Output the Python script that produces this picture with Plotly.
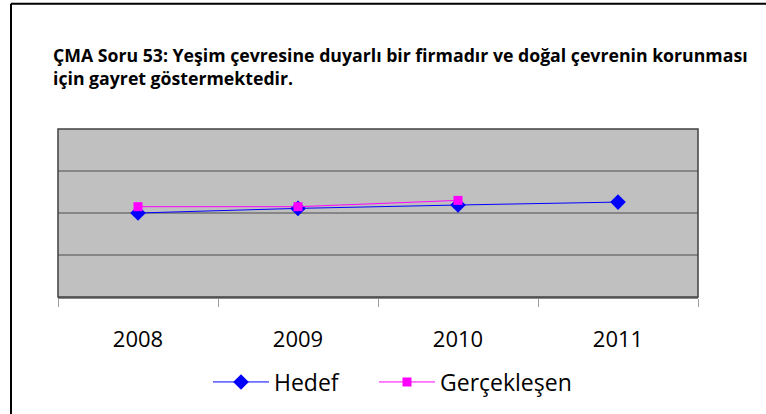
import plotly.graph_objects as go

years = ["2008", "2009", "2010", "2011"]
hedef = [2.0, 2.11, 2.19, 2.26]
gerceklesen = [2.15, 2.15, 2.30, None]
title_text = "ÇMA Soru 53: Yeşim çevresine duyarlı bir firmadır ve doğal çevrenin korunması<br>için gayret göstermektedir."

FONT = "Open Sans"

fig = go.Figure()
fig.add_trace(go.Scatter(
    x=years, y=hedef, name="Hedef", mode="lines+markers",
    line=dict(color="#0000FF", width=1),
    marker=dict(symbol="diamond", size=12, color="#0000FF"),
    legend="legend",
))
fig.add_trace(go.Scatter(
    x=years, y=gerceklesen, name="Gerçekleşen", mode="lines+markers",
    line=dict(color="#FF00FF", width=1),
    marker=dict(symbol="square", size=9, color="#FF00FF"),
    legend="legend2",
))

L, R, T, B = 58, 68, 129, 116
W, H = 766, 414
pw = W - L - R
ph = H - T - B

def px(xp):
    return (xp - L) / pw

def py(yp):
    return (H - B - yp) / ph

legend_common = dict(
    orientation="h", xanchor="left", y=py(382), yanchor="middle",
    font=dict(size=23, family=FONT), itemwidth=56, bgcolor="rgba(0,0,0,0)",
)

fig.update_layout(
    width=W, height=H,
    margin=dict(l=L, r=R, t=T, b=B, pad=0),
    paper_bgcolor="white",
    plot_bgcolor="#C0C0C0",
    font=dict(family=FONT, color="black"),
    showlegend=True,
    legend=dict(x=px(208), **legend_common),
    legend2=dict(x=px(374), **legend_common),
    xaxis=dict(
        type="category", tickson="boundaries", ticks="outside", ticklen=8,
        tickcolor="#A0A0A0", tickwidth=1, showgrid=False,
        showline=True, linecolor="#888888", linewidth=1.5,
        tickfont=dict(size=22, family=FONT), ticklabelstandoff=22,
        range=[-0.5, 3.5], zeroline=False,
    ),
    yaxis=dict(
        range=[0, 4], dtick=1, showticklabels=False, ticks="",
        showgrid=True, gridcolor="#868686", gridwidth=1.5, zeroline=False,
        showline=False,
    ),
    shapes=[
        dict(type="rect", xref="paper", yref="paper", x0=0, x1=1, y0=0, y1=1,
             line=dict(color="#404040", width=1.5), layer="above"),
        dict(type="line", xref="paper", yref="paper", x0=px(11), x1=px(11),
             y0=py(3), y1=py(420), line=dict(color="black", width=2)),
        dict(type="line", xref="paper", yref="paper", x0=px(11), x1=px(770),
             y0=py(3), y1=py(3), line=dict(color="black", width=2)),
    ],
    annotations=[
        dict(text="<b>" + title_text + "</b>", xref="paper", yref="paper",
             x=px(51), y=py(40), xanchor="left", yanchor="top", align="left",
             showarrow=False, font=dict(size=17.7, family=FONT, color="black")),
    ],
)

fig.write_html("out.html", config={"displayModeBar": False},
               post_script="document.body.style.margin='0';document.body.style.padding='0';")
